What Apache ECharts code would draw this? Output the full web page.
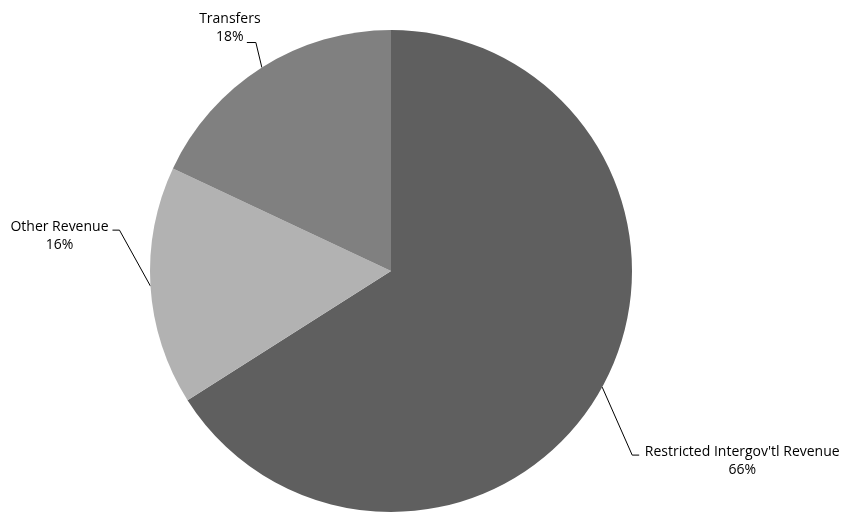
<!DOCTYPE html>
<html><head><meta charset="utf-8">
<script src="https://cdn.jsdelivr.net/npm/echarts@6/dist/echarts.min.js"></script>
<style>html,body{margin:0;padding:0;background:#fff}#c{width:846px;height:512px}</style>
</head><body><div id="c"></div>
<script>
const categories = ["Restricted Intergov'tl Revenue", "Other Revenue", "Transfers"];
const values = [66, 16, 18];
const colors = ['#5f5f5f', '#b2b2b2', '#808080'];
// leader-line geometry offsets (style only): elbow offset from slice edge, horizontal tail, label centre offset from tail end
const leader = [
  {ex: 30, ey: 68, hx: 7, lx: 103, ly: 6},
  {ex: -31, ey: -56, hx: -7, lx: -53, ly: 6},
  {ex: -6, ey: -25, hx: -9, lx: -17, ly: -15}
];
const chart = echarts.init(document.getElementById('c'), null, {renderer: 'canvas'});
chart.setOption({
  animation: false,
  series: [{
    type: 'pie',
    center: [391, 271],
    radius: [0, 241],
    startAngle: 90,
    clockwise: true,
    data: categories.map((n, i) => ({name: n, value: values[i], itemStyle: {color: colors[i]}})),
    label: {
      show: true,
      position: 'outside',
      formatter: p => p.name + '\n' + p.value + '%',
      fontFamily: 'Open Sans',
      fontSize: 14,
      lineHeight: 18,
      color: '#000',
      align: 'center',
      overflow: 'none'
    },
    labelLine: {show: true, length: 30, length2: 8, smooth: false, lineStyle: {color: '#000', width: 1}},
    emphasis: {disabled: true},
    labelLayout: function (p) {
      const o = leader[p.dataIndex];
      const e = p.labelLinePoints[0];
      const elbow = [e[0] + o.ex, e[1] + o.ey];
      const end = [elbow[0] + o.hx, elbow[1]];
      return {
        x: end[0] + o.lx,
        y: end[1] + o.ly,
        align: 'center',
        verticalAlign: 'middle',
        labelLinePoints: [e, elbow, end]
      };
    }
  }]
});
</script></body></html>
